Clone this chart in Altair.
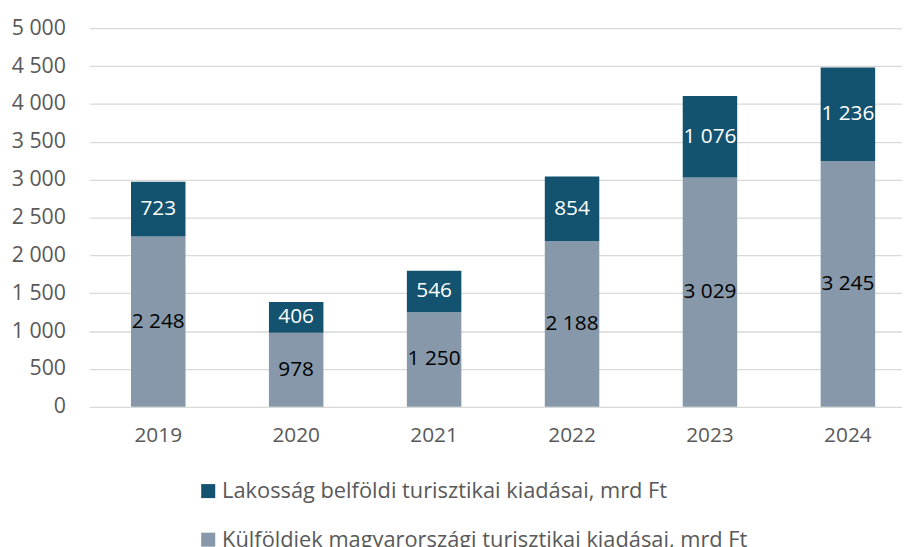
import altair as alt
import pandas as pd

years = ["2019", "2020", "2021", "2022", "2023", "2024"]
kulfoldi = [2248, 978, 1250, 2188, 3029, 3245]
lakossag = [723, 406, 546, 854, 1076, 1236]
series = [
    "Lakosság belföldi turisztikai kiadásai, mrd Ft",
    "Külföldiek magyarországi turisztikai kiadásai, mrd Ft",
]
colors = ["#14536F", "#8698AA"]
y_ticks = [0, 500, 1000, 1500, 2000, 2500, 3000, 3500, 4000, 4500, 5000]

rows = []
for i, yr in enumerate(years):
    rows.append({"year": yr, "series": series[1], "value": kulfoldi[i], "ord": 0, "lc": "black"})
    rows.append({"year": yr, "series": series[0], "value": lakossag[i], "ord": 1, "lc": "white"})
df = pd.DataFrame(rows)

FONT = "Open Sans"
GRID = "#d9d9d9"
LABEL = "#595959"
fmt = "replace(format(datum.value, ','), ',', ' ')"

x_enc = alt.X(
    "year:N",
    sort=years,
    title=None,
    scale=alt.Scale(range=[0, 835], paddingInner=0.605, paddingOuter=0.3025),
    axis=alt.Axis(labelAngle=0, ticks=False, domain=False, labelFontSize=21,
                  labelColor=LABEL, labelPadding=18, labelFont=FONT),
)

y_axis = alt.Axis(values=y_ticks, grid=True, gridColor=GRID, gridWidth=1.3,
                  domain=False, ticks=False, labelExpr=fmt, labelPadding=24,
                  labelOverlap=False, labelFontSize=21.5, labelColor=LABEL,
                  labelFont=FONT)
y_scale = alt.Scale(domain=[0, 5000])

base = alt.Chart(df)

bars = base.mark_bar().encode(
    x=x_enc,
    y=alt.Y("value:Q", stack=True, title=None, scale=y_scale, axis=y_axis),
    color=alt.Color(
        "series:N",
        scale=alt.Scale(domain=series, range=colors),
        legend=alt.Legend(orient="none", legendX=109, legendY=456, direction="vertical",
                          title=None, symbolType="square", symbolSize=200,
                          symbolStrokeWidth=0, labelFontSize=22, labelColor=LABEL,
                          labelFont=FONT, rowPadding=27, labelLimit=0, labelOffset=3),
    ),
    order=alt.Order("ord:Q"),
)

texts = base.transform_stack(
    stack="value", groupby=["year"], sort=[alt.SortField("ord")], as_=["y0", "y1"]
).transform_calculate(
    mid="(datum.y0 + datum.y1) / 2",
    label=fmt,
).mark_text(fontSize=21, font=FONT).encode(
    x=x_enc,
    y=alt.Y("mid:Q", title=None, scale=y_scale, axis=y_axis),
    text="label:N",
    color=alt.Color("lc:N", scale=None),
)

chart = alt.layer(bars, texts).properties(
    width=820,
    height=382,
    autosize=alt.AutoSizeParams(type="none"),
    padding={"left": 82, "top": 18, "right": 0, "bottom": 139},
).configure_view(stroke=None)

chart.save("out.html", embed_options={"renderer": "svg", "actions": False})
